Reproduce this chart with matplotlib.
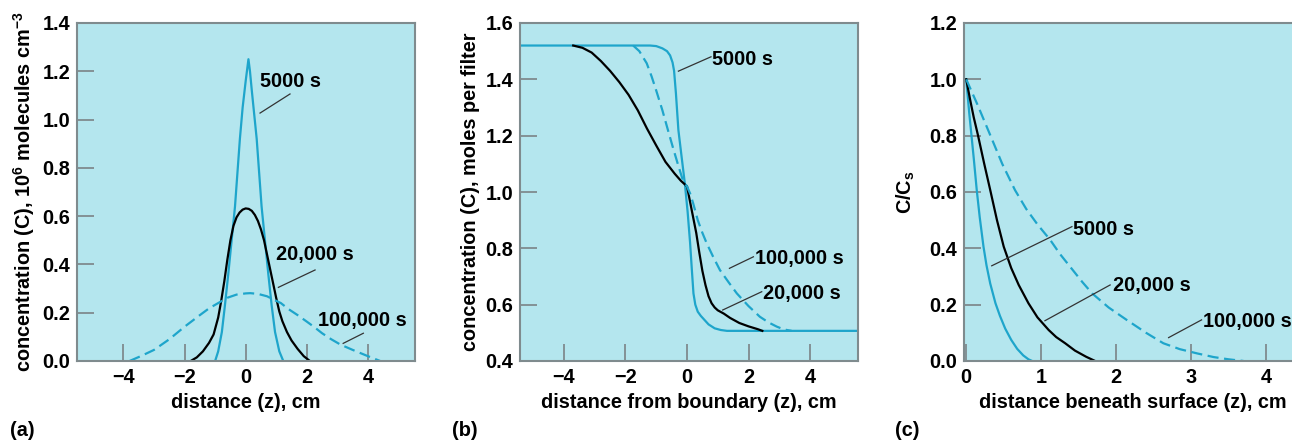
import matplotlib
matplotlib.use("Agg")
import matplotlib.pyplot as plt

# colours
bg_color = '#b4e6ee'
cyan = '#1ea5cb'
spine_color = '#7f8b8e'

# ---- panel (a): spreading of a pulse ----
a_x_5000 = [-1.0, -0.9, -0.78, -0.68, -0.57, -0.46, -0.35, -0.27, -0.19, -0.1, 0.0, 0.05, 0.09,
            0.14, 0.2, 0.28, 0.36, 0.44, 0.52, 0.63, 0.74, 0.85, 0.96, 1.1, 1.23]
a_y_5000 = [0.0, 0.04, 0.12, 0.23, 0.36, 0.50, 0.64, 0.78, 0.92, 1.05, 1.16, 1.21, 1.25,
            1.20, 1.12, 1.02, 0.92, 0.78, 0.64, 0.50, 0.36, 0.23, 0.12, 0.04, 0.0]

a_x_20000 = [-1.8, -1.6, -1.4, -1.2, -1.05, -0.9, -0.8, -0.7, -0.6, -0.5, -0.4, -0.3, -0.2, -0.1, 0.0, 0.1,
             0.2, 0.3, 0.4, 0.5, 0.6, 0.7, 0.8, 0.9, 1.0, 1.1, 1.2, 1.35, 1.5, 1.7, 1.9, 2.1]
a_y_20000 = [0.0, 0.015, 0.04, 0.075, 0.11, 0.18, 0.25, 0.33, 0.42, 0.50, 0.56, 0.595, 0.615, 0.627, 0.632, 0.63,
             0.622, 0.605, 0.58, 0.545, 0.50, 0.44, 0.38, 0.32, 0.26, 0.205, 0.165, 0.12, 0.085, 0.05, 0.02, 0.0]

a_x_100000 = [-3.8, -3.4, -3.0, -2.5, -2.0, -1.5, -1.2, -0.9, -0.6, -0.3, 0.0, 0.15, 0.4, 0.7, 0.9,
              1.15, 1.4, 1.7, 2.0, 2.25, 2.5, 2.8, 3.1, 3.5, 4.0, 4.4]
a_y_100000 = [0.0, 0.022, 0.046, 0.09, 0.142, 0.19, 0.218, 0.24, 0.262, 0.275, 0.28, 0.281, 0.278, 0.268, 0.255,
              0.24, 0.215, 0.19, 0.163, 0.14, 0.115, 0.09, 0.068, 0.046, 0.02, 0.0]

# ---- panel (b): spreading of a step ----
b_x_5000 = [-5.5, -1.2, -1.0, -0.8, -0.65, -0.55, -0.47, -0.42, -0.36, -0.28, -0.17, -0.07, 0.02, 0.1,
            0.16, 0.21, 0.27, 0.35, 0.45, 0.55, 0.7, 0.9, 1.1, 1.3, 5.6]
b_y_5000 = [1.52, 1.52, 1.518, 1.51, 1.50, 1.485, 1.46, 1.43, 1.35, 1.22, 1.12, 1.03, 0.93, 0.82,
            0.72, 0.64, 0.60, 0.575, 0.56, 0.548, 0.53, 0.516, 0.51, 0.507, 0.507]

b_x_20000 = [-3.7, -3.4, -3.1, -2.8, -2.5, -2.2, -1.9, -1.6, -1.3, -1.0, -0.7, -0.4, -0.2, 0.0, 0.1, 0.2,
             0.3, 0.4, 0.5, 0.6, 0.7, 0.8, 0.9, 1.0, 1.2, 1.4, 1.7, 2.0, 2.3, 2.45]
b_y_20000 = [1.52, 1.512, 1.495, 1.465, 1.43, 1.39, 1.345, 1.29, 1.225, 1.165, 1.107, 1.065, 1.04, 1.02, 0.965, 0.91,
             0.855, 0.785, 0.72, 0.67, 0.63, 0.605, 0.59, 0.58, 0.568, 0.553, 0.535, 0.523, 0.513, 0.507]

b_x_100000 = [-1.75, -1.55, -1.31, -1.15, -1.0, -0.8, -0.62, -0.45, -0.3, -0.13, 0.0, 0.1, 0.2, 0.35, 0.5,
              0.64, 0.85, 1.07, 1.35, 1.62, 2.0, 2.37, 2.65, 2.92, 3.15, 3.4]
b_y_100000 = [1.52, 1.50, 1.457, 1.41, 1.36, 1.29, 1.22, 1.155, 1.10, 1.04, 1.02, 0.995, 0.96, 0.90, 0.855,
              0.818, 0.77, 0.723, 0.68, 0.64, 0.595, 0.557, 0.537, 0.522, 0.512, 0.507]

# ---- panel (c): diffusion from a surface ----
c_x_5000 = [0, 0.02, 0.04, 0.07, 0.1, 0.14, 0.18, 0.23, 0.27, 0.32, 0.39, 0.45, 0.52, 0.6, 0.68, 0.76, 0.83, 0.88]
c_y_5000 = [1.0, 0.94, 0.88, 0.80, 0.72, 0.607, 0.51, 0.406, 0.34, 0.275, 0.205, 0.16, 0.115, 0.075, 0.043, 0.02,
            0.006, 0.0]

c_x_20000 = [0, 0.05, 0.1, 0.156, 0.24, 0.32, 0.41, 0.5, 0.6, 0.7, 0.83, 0.95, 1.1, 1.2, 1.32, 1.45, 1.6, 1.72]
c_y_20000 = [1.0, 0.93, 0.865, 0.802, 0.70, 0.607, 0.50, 0.406, 0.33, 0.27, 0.205, 0.155, 0.11, 0.085, 0.063,
             0.037, 0.015, 0.0]

c_x_100000 = [0, 0.15, 0.32, 0.48, 0.65, 0.8, 0.95, 1.12, 1.25, 1.4, 1.55, 1.68, 1.9, 2.14, 2.4, 2.63, 2.85,
              3.08, 3.3, 3.5, 3.7]
c_y_100000 = [1.0, 0.91, 0.802, 0.70, 0.607, 0.54, 0.485, 0.43, 0.38, 0.33, 0.28, 0.24, 0.19, 0.146, 0.10, 0.063,
              0.042, 0.027, 0.014, 0.006, 0.0]

plt.rcParams['font.family'] = ['Liberation Sans', 'DejaVu Sans']
plt.rcParams['font.weight'] = 'bold'
plt.rcParams['mathtext.fontset'] = 'custom'
plt.rcParams['mathtext.rm'] = 'Liberation Sans:bold'
plt.rcParams['mathtext.default'] = 'rm'

FS = 14.3
W, H = 1292, 441
DASH = (0, (5, 2.5))


def make_axes(fig, left_px):
    ax = fig.add_axes([left_px / W, (H - 361) / H, 338 / W, 338 / H])
    ax.set_facecolor(bg_color)
    for s in ax.spines.values():
        s.set_color(spine_color)
        s.set_linewidth(1.5)
    ax.tick_params(direction='in', length=12, width=1.3, color=spine_color,
                   labelsize=FS, pad=5)
    return ax


def pointer(ax, text, txy, p0, p1):
    ax.plot([p0[0], p1[0]], [p0[1], p1[1]], color='#333333', lw=0.9)
    ax.text(txy[0], txy[1], text, fontsize=FS, fontweight='bold',
            ha='left', va='center', clip_on=False)


fig = plt.figure(figsize=(W / 100, H / 100), dpi=100)

# (a)
ax = make_axes(fig, 77)
ax.plot(a_x_5000, a_y_5000, color=cyan, lw=1.6)
ax.plot(a_x_20000, a_y_20000, color='black', lw=1.6)
ax.plot(a_x_100000, a_y_100000, color=cyan, lw=1.6, ls=DASH)
ax.set_xlim(-5.52, 5.54)
ax.set_ylim(0, 1.4)
ax.set_xticks([-4, -2, 0, 2, 4])
ax.set_xticklabels(['\u22124', '\u22122', '0', '2', '4'])
ax.set_yticks([0, 0.2, 0.4, 0.6, 0.8, 1.0, 1.2, 1.4])
ax.set_yticklabels(['0.0', '0.2', '0.4', '0.6', '0.8', '1.0', '1.2', '1.4'])
pointer(ax, '5000 s', (0.47, 1.156), (1.45, 1.106), (0.47, 1.027))
pointer(ax, '20,000 s', (0.99, 0.443), (2.27, 0.377), (1.07, 0.305))
pointer(ax, '100,000 s', (2.37, 0.167), (3.85, 0.115), (3.19, 0.073))
ax.set_xlabel('distance (z), cm', fontsize=FS, fontweight='bold', labelpad=4)
ax.set_ylabel('concentration (C), 10$^{6}$ molecules cm$^{-3}$', fontsize=FS,
              fontweight='bold', labelpad=4)
fig.text(10 / W, 1 - 430 / H, '(a)', fontsize=FS, fontweight='bold', va='center')

# (b)
ax = make_axes(fig, 520)
ax.plot(b_x_5000, b_y_5000, color=cyan, lw=1.6)
ax.plot(b_x_20000, b_y_20000, color='black', lw=1.6)
ax.plot(b_x_100000, b_y_100000, color=cyan, lw=1.6, ls=DASH)
ax.set_xlim(-5.43, 5.56)
ax.set_ylim(0.4, 1.6)
ax.set_xticks([-4, -2, 0, 2, 4])
ax.set_xticklabels(['\u22124', '\u22122', '0', '2', '4'])
ax.set_yticks([0.4, 0.6, 0.8, 1.0, 1.2, 1.4, 1.6])
ax.set_yticklabels(['0.4', '0.6', '0.8', '1.0', '1.2', '1.4', '1.6'])
pointer(ax, '5000 s', (0.8, 1.471), (0.78, 1.48), (-0.28, 1.429))
pointer(ax, '100,000 s', (2.21, 0.765), (2.16, 0.77), (1.38, 0.729))
pointer(ax, '20,000 s', (2.48, 0.638), (2.43, 0.646), (1.16, 0.581))
ax.set_xlabel('distance from boundary (z), cm', fontsize=FS, fontweight='bold', labelpad=4)
ax.set_ylabel('concentration (C), moles per filter', fontsize=FS,
              fontweight='bold', labelpad=4)
fig.text(452 / W, 1 - 430 / H, '(b)', fontsize=FS, fontweight='bold', va='center')

# (c)
ax = make_axes(fig, 964)
ax.plot(c_x_5000, c_y_5000, color=cyan, lw=1.6)
ax.plot(c_x_20000, c_y_20000, color='black', lw=1.6)
ax.plot(c_x_100000, c_y_100000, color=cyan, lw=1.6, ls=DASH)
ax.set_xlim(-0.03, 4.48)
ax.set_ylim(0, 1.2)
ax.set_xticks([0, 1, 2, 3, 4])
ax.set_yticks([0, 0.2, 0.4, 0.6, 0.8, 1.0, 1.2])
ax.set_yticklabels(['0.0', '0.2', '0.4', '0.6', '0.8', '1.0', '1.2'])
pointer(ax, '5000 s', (1.43, 0.468), (1.41, 0.477), (0.34, 0.338))
pointer(ax, '20,000 s', (1.96, 0.267), (1.92, 0.27), (1.05, 0.143))
pointer(ax, '100,000 s', (3.16, 0.14), (3.14, 0.146), (2.70, 0.083))
ax.set_xlabel('distance beneath surface (z), cm', fontsize=FS, fontweight='bold', labelpad=4)
ax.set_ylabel('C/C$_{s}$', fontsize=FS, fontweight='bold', labelpad=9)
fig.text(895 / W, 1 - 430 / H, '(c)', fontsize=FS, fontweight='bold', va='center')

fig.savefig('out.png', dpi=100)
